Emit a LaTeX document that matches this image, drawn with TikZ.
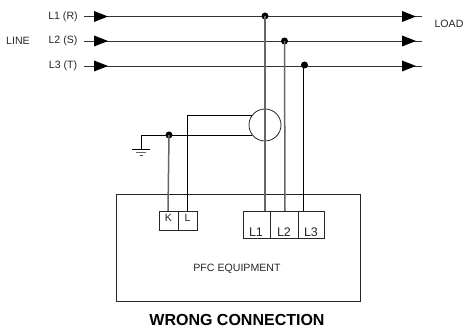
\documentclass[tikz,border=0pt]{standalone}
\usepackage{fontspec}
\setmainfont{Liberation Sans}
\tikzset{
  wire/.style={line width=0.8pt,black!80},
  thickwire/.style={line width=1.5pt,black!60},
  thinwire/.style={line width=0.8pt,black},
  arrowtip/.style={fill=black,draw=none},
  junction/.style={circle,fill=black,inner sep=0pt,minimum size=7pt},
  box/.style={draw=black!85,line width=0.8pt,inner sep=0pt,rectangle},
  lbl/.style={inner sep=0pt,font=\fontsize{10.6}{12}\selectfont,text=black!85},
  termlbl/.style={inner sep=0pt,font=\fontsize{12.5}{14}\selectfont,text=black!85},
}
\begin{document}
\begin{tikzpicture}[x=1pt,y=-1pt]
\useasboundingbox (0,0) rectangle (464,331);
% main box
\node[box,minimum width=244.5pt,minimum height=107pt] (pfc) at (238.25,247.5) {};
% terminals
\node[box,minimum width=18.5pt,minimum height=19pt] (k) at (168.75,220.5) {};
\node[box,minimum width=19.5pt,minimum height=19pt] (l) at (187.75,220.5) {};
\node[box,minimum width=27.5pt,minimum height=27pt] (t1) at (256.75,224.5) {};
\node[box,minimum width=28pt,minimum height=27pt] (t2) at (284.5,224.5) {};
\node[box,minimum width=26pt,minimum height=27pt] (t3) at (311.5,224.5) {};
\node[lbl] at (168.5,218) {K};
\node[lbl] at (187.5,218) {L};
\node[termlbl] at (256,232) {L1};
\node[termlbl] at (284,232) {L2};
\node[termlbl] at (311,232) {L3};
% line coordinates
\coordinate (a1) at (84,16.5); \coordinate (b1) at (422,16.5);
\coordinate (a2) at (84,41);   \coordinate (b2) at (422,41);
\coordinate (a3) at (84,66);   \coordinate (b3) at (422,66);
\draw[wire] (a1) -- (b1);
\draw[wire] (a2) -- (b2);
\draw[wire] (a3) -- (b3);
\foreach \y in {16.5,41,66} {
  \fill[arrowtip] (94,\y-5.5) -- (108,\y) -- (94,\y+5.5) -- cycle;
  \fill[arrowtip] (402,\y-5.5) -- (416,\y) -- (402,\y+5.5) -- cycle;
}
% junctions
\node[junction] (j1) at (265,16) {};
\node[junction] (j2) at (284.5,41) {};
\node[junction] (j3) at (304.5,65) {};
\node[junction] (j4) at (169,135) {};
% CT
\node[circle,draw=black!85,line width=0.8pt,fill=none,minimum size=32pt,inner sep=0pt] (ct) at (265,125) {};
% verticals
\coordinate (v1) at (265,211);
\coordinate (v2) at (285,211);
\coordinate (v3) at (303.5,211);
\draw[thickwire] (j1.center) -- (v1);
\draw[thickwire] (j2.center) -- (v2);
\draw[thinwire] (303.5,65) -- (v3);
% CT leads
\coordinate (g) at (141,135);
\coordinate (g1) at (141,149);
\coordinate (lt) at (187.5,115.5);
\coordinate (c1) at (252,135);
\coordinate (c2) at (252,115.5);
\draw[thinwire] (c1) -- (g) -- (g1);
\draw[thinwire] (c2) -- (lt) -- (187.5,211);
\draw[thickwire] (j4.center) -- (168,211);
% ground
\draw[thinwire] (132,149.5) -- (150,149.5);
\draw[line width=0.8pt,black!60] (136,152.5) -- (146,152.5);
\draw[line width=0.8pt,black!70] (139.5,155.5) -- (142.5,155.5);
% texts
\node[lbl] at (63,16.5) {L1 (R)};
\node[lbl] at (63,40.5) {L2 (S)};
\node[lbl] at (63,65.5) {L3 (T)};
\node[lbl] at (18,40.5) {LINE};
\node[lbl] at (449,24) {LOAD};
\node[lbl] at (237,269) {PFC EQUIPMENT};
\node[inner sep=0pt,font=\bfseries\fontsize{16}{18}\selectfont] at (237,319.5) {WRONG CONNECTION};
\end{tikzpicture}
\end{document}
